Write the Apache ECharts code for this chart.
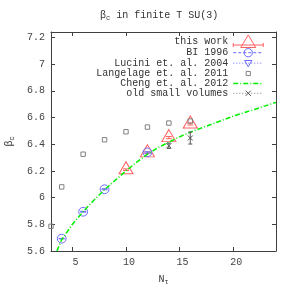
<!DOCTYPE html>
<html><head><meta charset="utf-8">
<script src="https://cdn.jsdelivr.net/npm/echarts@6/dist/echarts.min.js"></script>
<style>html,body{margin:0;padding:0;background:#fff}#c{width:295px;height:295px}</style>
</head><body><div id="c"></div>
<script>
// ---- data ----
const thisWorkNt = [10, 12, 14, 16];
const thisWorkBeta = [6.209, 6.335, 6.449, 6.551];
const thisWorkErr = [0.006, 0.006, 0.008, 0.008];

const bi1996Nt = [4, 6, 8, 12];
const bi1996Beta = [5.6925, 5.8941, 6.0624, 6.3380];
const bi1996Err = [0.002, 0.003, 0.004, 0.005];

const lucini2004Nt = [];
const lucini2004Beta = [];

const langelageNt = [3, 4, 6, 8, 10, 12, 14, 16];
const langelageBeta = [5.785, 6.08, 6.325, 6.433, 6.493, 6.528, 6.558, 6.573];

const chengNt = [3.55, 4, 5, 6, 7, 8, 9, 10, 11, 12, 13, 14, 15, 16, 17, 18, 19, 20, 21, 22, 23, 24];
const chengBeta = [5.6, 5.685, 5.80, 5.895, 5.98, 6.06, 6.13, 6.20, 6.265, 6.325, 6.375, 6.415, 6.455, 6.49, 6.52, 6.55, 6.58, 6.61, 6.635, 6.66, 6.687, 6.713];

const oldNt = [14, 16];
const oldBeta = [6.388, 6.446];
const oldErr = [0.02, 0.045];

const xTicks = [5, 10, 15, 20];
const yTicks = [5.6, 5.8, 6, 6.2, 6.4, 6.6, 6.8, 7, 7.2];

const seriesNames = ['this work', 'BI 1996', 'Lucini et. al. 2004', 'Langelage et. al. 2011', 'Cheng et. al. 2012', 'old small volumes'];

// ---- style ----
const MONO = 'Liberation Mono';
const RED = '#ff6060';
const BLUE = '#6a6aff';
const GRAY = '#808080';
const DARK = '#555555';
const GREEN = '#00f000';
const AX = '#404040';
const TXT = '#333333';
const NONE = 'rgba(0,0,0,0)';

const SYM_CIRCLE = 'path://M0,0M10,10M1,5A4,4,0,1,0,9,5A4,4,0,1,0,1,5Z';
const SYM_ITRI = 'path://M0,0M10,10M1.5,2.5L8.5,2.5L5,8.5Z';
const SYM_SQUARE = 'path://M0,0M10,10M3,3L7,3L7,7L3,7Z';
const SYM_X = 'path://M0,0M10,10M2.5,2.5L7.5,7.5M7.5,2.5L2.5,7.5';
const ICON_TW = 'path://M0,10L30,10M0,8L0,12M30,8L30,12M7.5,12.5L15,0L22.5,12.5Z';

const pairs = (xs, ys) => xs.map((x, i) => [x, ys[i]]);
const triples = (xs, ys, es) => xs.map((x, i) => [x, ys[i], es[i]]);

function errBars(color, cap) {
  return function (params, api) {
    const x = api.value(0), y = api.value(1), e = api.value(2);
    const t = api.coord([x, y + e]);
    const b = api.coord([x, y - e]);
    const st = { stroke: color, lineWidth: 1 };
    return { type: 'group', children: [
      { type: 'line', shape: { x1: t[0], y1: t[1], x2: b[0], y2: b[1] }, style: st },
      { type: 'line', shape: { x1: t[0] - cap, y1: t[1], x2: t[0] + cap, y2: t[1] }, style: st },
      { type: 'line', shape: { x1: b[0] - cap, y1: b[1], x2: b[0] + cap, y2: b[1] }, style: st }
    ]};
  };
}

const rich = {
  n: { fontFamily: MONO, fontSize: 10, fontWeight: 'normal', color: TXT, lineHeight: 14, verticalAlign: 'middle' },
  s: { fontFamily: MONO, fontSize: 7, fontWeight: 'normal', color: TXT, lineHeight: 14, verticalAlign: 'bottom' }
};

const axisCommon = {
  type: 'value',
  axisLine: { show: true, onZero: false, lineStyle: { color: AX, width: 1 } },
  splitLine: { show: false },
  silent: true
};

const chart = echarts.init(document.getElementById('c'), null, { renderer: 'canvas' });
chart.setOption({
  animation: false,
  backgroundColor: '#fff',
  title: {
    text: '{n|β}{s|c}{n| in finite T SU(3)}',
    left: 100, top: 8, padding: 0,
    textStyle: { rich: rich, fontFamily: MONO, fontSize: 10, fontWeight: 'normal', color: TXT }
  },
  grid: { left: 51, right: 19, top: 32, bottom: 44, containLabel: false, outerBoundsMode: 'none' },
  xAxis: [
    Object.assign({}, axisCommon, {
      min: 3, max: 24, position: 'bottom',
      axisTick: { show: true, inside: true, length: 4, customValues: xTicks, lineStyle: { color: AX } },
      axisLabel: { customValues: xTicks, margin: 6, fontFamily: MONO, fontSize: 10, color: '#444', padding: [0, 0, 0, 6] },
      name: '{n|N}{s|τ}', nameLocation: 'middle', nameGap: 21,
      nameTextStyle: { rich: rich }
    }),
    Object.assign({}, axisCommon, {
      min: 3, max: 24, position: 'top',
      axisTick: { show: true, inside: true, length: 4, customValues: xTicks, lineStyle: { color: AX } },
      axisLabel: { show: false }
    })
  ],
  yAxis: [
    Object.assign({}, axisCommon, {
      min: 5.6, max: 7.24, position: 'left',
      axisTick: { show: true, inside: true, length: 4, customValues: yTicks, lineStyle: { color: AX } },
      axisLabel: { customValues: yTicks, margin: 6, fontFamily: MONO, fontSize: 10, color: '#444' },
      name: '{n|β}{s|c}', nameLocation: 'middle', nameGap: 29,
      nameTextStyle: { rich: rich }
    }),
    Object.assign({}, axisCommon, {
      min: 5.6, max: 7.24, position: 'right',
      axisTick: { show: true, inside: true, length: 4, customValues: yTicks, lineStyle: { color: AX } },
      axisLabel: { show: false }
    })
  ],
  legend: {
    orient: 'vertical', right: 31, top: 34.5, padding: 0,
    itemWidth: 30, itemHeight: 13, itemGap: -1.0, align: 'right',
    selectedMode: false,
    textStyle: { fontFamily: MONO, fontSize: 10, color: TXT },
    data: [
      { name: seriesNames[0], icon: ICON_TW, itemStyle: { color: NONE, borderColor: RED, borderWidth: 1, opacity: 1 } },
      { name: seriesNames[1], itemStyle: { color: NONE, borderColor: BLUE, borderWidth: 1, opacity: 1 },
        lineStyle: { color: BLUE, width: 1, type: [3, 2], opacity: 1 } },
      { name: seriesNames[2], itemStyle: { color: NONE, borderColor: BLUE, borderWidth: 1, opacity: 1 },
        lineStyle: { color: BLUE, width: 1, type: [1, 2], opacity: 1 } },
      { name: seriesNames[3], itemStyle: { color: NONE, borderColor: GRAY, borderWidth: 1, opacity: 1 },
        lineStyle: { color: GRAY, width: 1, opacity: 0 } },
      { name: seriesNames[4], itemStyle: { color: NONE, borderColor: NONE, borderWidth: 0, opacity: 0 },
        lineStyle: { color: GREEN, width: 1.5, type: [5, 2, 1, 2], opacity: 1 } },
      { name: seriesNames[5], itemStyle: { color: NONE, borderColor: DARK, borderWidth: 1, opacity: 1 },
        lineStyle: { color: GRAY, width: 1, type: [1, 2], opacity: 1 } }
    ]
  },
  series: [
    { type: 'custom', name: 'err0', silent: true, renderItem: errBars(RED, 3), data: triples(thisWorkNt, thisWorkBeta, thisWorkErr), encode: { x: 0, y: 1 }, z: 2 },
    { type: 'line', name: seriesNames[0], data: pairs(thisWorkNt, thisWorkBeta), symbol: 'triangle', symbolSize: [14, 12], symbolOffset: [0, -2],
      showSymbol: true, showAllSymbol: true, silent: true, lineStyle: { opacity: 0, color: RED },
      itemStyle: { color: NONE, borderColor: RED, borderWidth: 1 }, emphasis: { disabled: true }, z: 2 },
    { type: 'custom', name: 'err1', silent: true, renderItem: errBars(BLUE, 3), data: triples(bi1996Nt, bi1996Beta, bi1996Err), encode: { x: 0, y: 1 }, z: 2 },
    { type: 'line', name: seriesNames[1], data: pairs(bi1996Nt, bi1996Beta), symbol: SYM_CIRCLE, symbolSize: 11,
      showSymbol: true, showAllSymbol: true, silent: true, lineStyle: { opacity: 0, color: BLUE },
      itemStyle: { color: NONE, borderColor: BLUE, borderWidth: 1 }, emphasis: { disabled: true }, z: 2 },
    { type: 'line', name: seriesNames[2], data: pairs(lucini2004Nt, lucini2004Beta), symbol: SYM_ITRI, symbolSize: 10,
      showSymbol: true, showAllSymbol: true, silent: true, lineStyle: { opacity: 0, color: BLUE },
      itemStyle: { color: NONE, borderColor: BLUE, borderWidth: 1 }, emphasis: { disabled: true }, z: 2 },
    { type: 'line', name: seriesNames[3], data: pairs(langelageNt, langelageBeta), symbol: SYM_SQUARE, symbolSize: 11,
      showSymbol: true, showAllSymbol: true, silent: true, lineStyle: { opacity: 0, color: GRAY },
      itemStyle: { color: NONE, borderColor: GRAY, borderWidth: 1 }, emphasis: { disabled: true }, z: 2 },
    { type: 'line', name: seriesNames[4], data: pairs(chengNt, chengBeta), symbol: 'none', silent: true,
      lineStyle: { color: GREEN, width: 1.5, type: [5, 2, 1, 2] }, itemStyle: { color: GREEN }, emphasis: { disabled: true }, z: 3 },
    { type: 'custom', name: 'err5', silent: true, renderItem: errBars(DARK, 2), data: triples(oldNt, oldBeta, oldErr), encode: { x: 0, y: 1 }, z: 4 },
    { type: 'line', name: seriesNames[5], data: pairs(oldNt, oldBeta), symbol: SYM_X, symbolSize: 10,
      showSymbol: true, showAllSymbol: true, silent: true, lineStyle: { opacity: 0, color: GRAY },
      itemStyle: { color: NONE, borderColor: DARK, borderWidth: 1 }, emphasis: { disabled: true }, z: 4 }
  ]
});
</script>
</body></html>
